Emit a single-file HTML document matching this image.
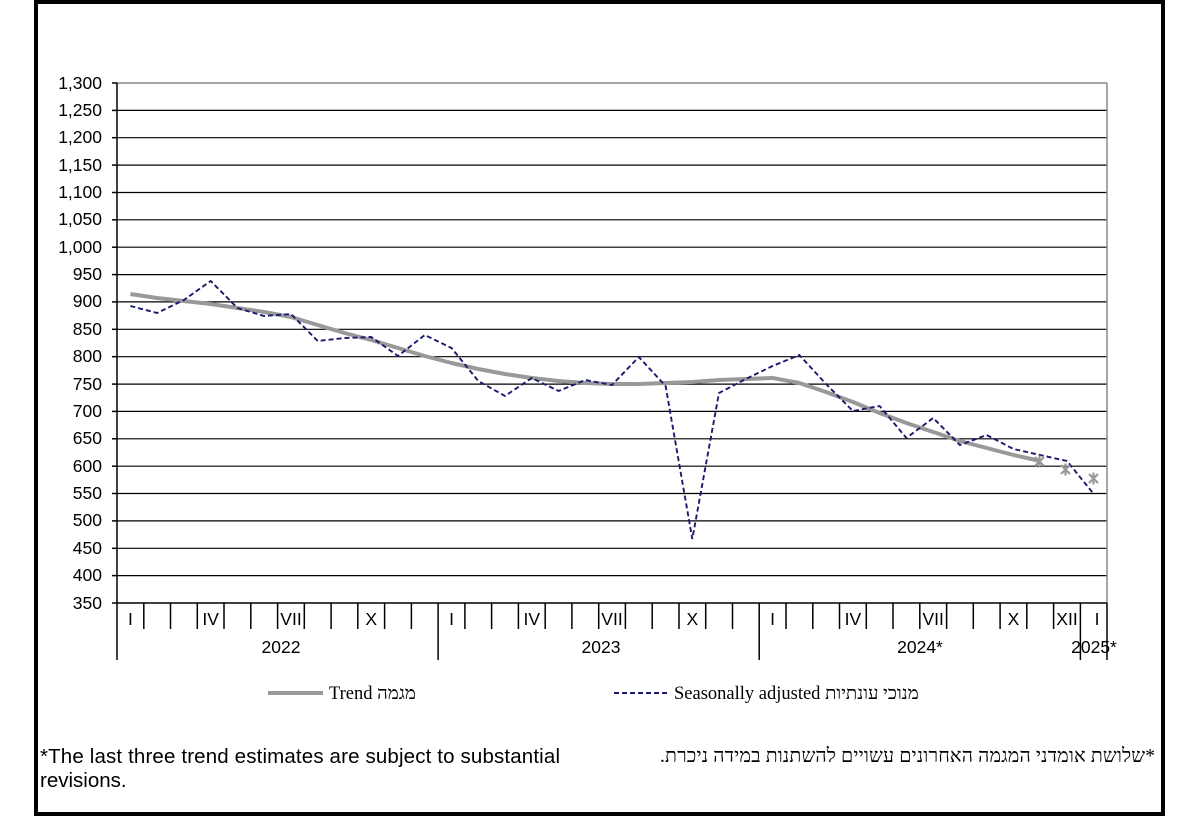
<!DOCTYPE html>
<html><head><meta charset="utf-8"><style>
html,body{margin:0;padding:0;background:#fff;}
svg{display:block;}
.a{font-family:"Liberation Sans",Arial,sans-serif;font-size:17.5px;fill:#000;}
.t{font-family:"Liberation Serif","Noto Serif CJK SC",serif;font-size:18.5px;fill:#000;}
</style></head><body>
<svg width="1200" height="817" viewBox="0 0 1200 817" xmlns="http://www.w3.org/2000/svg">
<rect x="36" y="2" width="1127" height="812" fill="#fff" stroke="#000" stroke-width="4"/>
<g stroke="#000" stroke-width="1.2">
<line x1="117" y1="110.4" x2="1107" y2="110.4"/><line x1="117" y1="137.7" x2="1107" y2="137.7"/><line x1="117" y1="165.1" x2="1107" y2="165.1"/><line x1="117" y1="192.5" x2="1107" y2="192.5"/><line x1="117" y1="219.8" x2="1107" y2="219.8"/><line x1="117" y1="247.2" x2="1107" y2="247.2"/><line x1="117" y1="274.6" x2="1107" y2="274.6"/><line x1="117" y1="301.9" x2="1107" y2="301.9"/><line x1="117" y1="329.3" x2="1107" y2="329.3"/><line x1="117" y1="356.7" x2="1107" y2="356.7"/><line x1="117" y1="384.1" x2="1107" y2="384.1"/><line x1="117" y1="411.4" x2="1107" y2="411.4"/><line x1="117" y1="438.8" x2="1107" y2="438.8"/><line x1="117" y1="466.2" x2="1107" y2="466.2"/><line x1="117" y1="493.5" x2="1107" y2="493.5"/><line x1="117" y1="520.9" x2="1107" y2="520.9"/><line x1="117" y1="548.3" x2="1107" y2="548.3"/><line x1="117" y1="575.6" x2="1107" y2="575.6"/>
</g>
<line x1="117" y1="83" x2="1107" y2="83" stroke="#888" stroke-width="1.5"/>
<line x1="1107" y1="83" x2="1107" y2="603" stroke="#888" stroke-width="1.5"/>
<g stroke="#000" stroke-width="1.5">
<line x1="117" y1="83" x2="117" y2="660"/>
<line x1="112" y1="603" x2="1107" y2="603"/>
<line x1="112" y1="83" x2="117" y2="83"/><line x1="112" y1="110.4" x2="117" y2="110.4"/><line x1="112" y1="137.7" x2="117" y2="137.7"/><line x1="112" y1="165.1" x2="117" y2="165.1"/><line x1="112" y1="192.5" x2="117" y2="192.5"/><line x1="112" y1="219.8" x2="117" y2="219.8"/><line x1="112" y1="247.2" x2="117" y2="247.2"/><line x1="112" y1="274.6" x2="117" y2="274.6"/><line x1="112" y1="301.9" x2="117" y2="301.9"/><line x1="112" y1="329.3" x2="117" y2="329.3"/><line x1="112" y1="356.7" x2="117" y2="356.7"/><line x1="112" y1="384.1" x2="117" y2="384.1"/><line x1="112" y1="411.4" x2="117" y2="411.4"/><line x1="112" y1="438.8" x2="117" y2="438.8"/><line x1="112" y1="466.2" x2="117" y2="466.2"/><line x1="112" y1="493.5" x2="117" y2="493.5"/><line x1="112" y1="520.9" x2="117" y2="520.9"/><line x1="112" y1="548.3" x2="117" y2="548.3"/><line x1="112" y1="575.6" x2="117" y2="575.6"/>
<line x1="143.8" y1="603" x2="143.8" y2="629"/><line x1="170.5" y1="603" x2="170.5" y2="629"/><line x1="197.3" y1="603" x2="197.3" y2="629"/><line x1="224" y1="603" x2="224" y2="629"/><line x1="250.8" y1="603" x2="250.8" y2="629"/><line x1="277.6" y1="603" x2="277.6" y2="629"/><line x1="304.3" y1="603" x2="304.3" y2="629"/><line x1="331.1" y1="603" x2="331.1" y2="629"/><line x1="357.8" y1="603" x2="357.8" y2="629"/><line x1="384.6" y1="603" x2="384.6" y2="629"/><line x1="411.4" y1="603" x2="411.4" y2="629"/>
<line x1="438.1" y1="603" x2="438.1" y2="660"/>
<line x1="464.9" y1="603" x2="464.9" y2="629"/><line x1="491.6" y1="603" x2="491.6" y2="629"/><line x1="518.4" y1="603" x2="518.4" y2="629"/><line x1="545.2" y1="603" x2="545.2" y2="629"/><line x1="571.9" y1="603" x2="571.9" y2="629"/><line x1="598.7" y1="603" x2="598.7" y2="629"/><line x1="625.4" y1="603" x2="625.4" y2="629"/><line x1="652.2" y1="603" x2="652.2" y2="629"/><line x1="679" y1="603" x2="679" y2="629"/><line x1="705.7" y1="603" x2="705.7" y2="629"/><line x1="732.5" y1="603" x2="732.5" y2="629"/>
<line x1="759.2" y1="603" x2="759.2" y2="660"/>
<line x1="786" y1="603" x2="786" y2="629"/><line x1="812.8" y1="603" x2="812.8" y2="629"/><line x1="839.5" y1="603" x2="839.5" y2="629"/><line x1="866.3" y1="603" x2="866.3" y2="629"/><line x1="893" y1="603" x2="893" y2="629"/><line x1="919.8" y1="603" x2="919.8" y2="629"/><line x1="946.6" y1="603" x2="946.6" y2="629"/><line x1="973.3" y1="603" x2="973.3" y2="629"/><line x1="1000.1" y1="603" x2="1000.1" y2="629"/><line x1="1026.8" y1="603" x2="1026.8" y2="629"/><line x1="1053.6" y1="603" x2="1053.6" y2="629"/>
<line x1="1080.4" y1="603" x2="1080.4" y2="660"/>
<line x1="1107" y1="603" x2="1107" y2="660"/>
</g>
<g class="a" text-anchor="end">
<text x="102" y="89">1,300</text><text x="102" y="116">1,250</text><text x="102" y="143">1,200</text><text x="102" y="171">1,150</text><text x="102" y="198">1,100</text><text x="102" y="225">1,050</text><text x="102" y="253">1,000</text><text x="102" y="280">950</text><text x="102" y="307">900</text><text x="102" y="335">850</text><text x="102" y="362">800</text><text x="102" y="390">750</text><text x="102" y="417">700</text><text x="102" y="444">650</text><text x="102" y="472">600</text><text x="102" y="499">550</text><text x="102" y="526">500</text><text x="102" y="554">450</text><text x="102" y="581">400</text><text x="102" y="609">350</text>
</g>
<g class="a" text-anchor="middle">
<text x="130.4" y="625">I</text><text x="210.7" y="625">IV</text><text x="291" y="625">VII</text><text x="371.2" y="625">X</text>
<text x="451.5" y="625">I</text><text x="531.8" y="625">IV</text><text x="612" y="625">VII</text><text x="692.3" y="625">X</text>
<text x="772.6" y="625">I</text><text x="852.9" y="625">IV</text><text x="933.2" y="625">VII</text><text x="1013.5" y="625">X</text><text x="1067" y="625">XII</text><text x="1097" y="625">I</text>
<text x="281" y="653">2022</text><text x="601" y="653">2023</text><text x="920" y="653">2024*</text><text x="1094" y="653">2025*</text>
</g>
<polyline fill="none" stroke="#999" stroke-width="4" stroke-linejoin="round" points="130.4,294 157.1,298 183.9,301 210.7,304 237.4,308 264.2,312 291,317 317.7,325 344.5,333 371.2,340 398,348 424.8,356 451.5,363 478.3,369 505,374 531.8,378 558.6,381 585.3,383 612,384 638.8,384 665.6,383 692.3,382 719,380 745.8,379 772.6,378 799.3,383 826,392 852.9,402 879.6,413 906.4,423 933.2,432 959.9,441 986.7,448 1013.5,455 1040.2,461"/>
<polyline fill="none" stroke="#1a1a6e" stroke-width="1.9" stroke-dasharray="5,3" points="130.4,306 157.1,313 183.9,300 210.7,281 237.4,308 264.2,316 291,314 317.7,341 344.5,338 371.2,337 398,356 424.8,335 451.5,348 478.3,381 505,396 531.8,378 558.6,391 585.3,380 612,385 638.8,357 665.6,386 692.3,539 719,393 745.8,379 772.6,366 799.3,355 826,384 852.9,411 879.6,406 906.4,438 933.2,418 959.9,445 986.7,435 1013.5,449 1040.2,455 1067,461 1093.7,494"/>
<g stroke="#999" stroke-width="2.2">
<path d="M1035,457 L1044,466 M1044,457 L1035,466 M1039.5,455.5 V467.5"/>
<path d="M1061,465 L1070,474 M1070,465 L1061,474 M1065.5,463.5 V475.5"/>
<path d="M1089,474 L1098,483 M1098,474 L1089,483 M1093.5,472.5 V484.5"/>
</g>
<line x1="268" y1="693" x2="323" y2="693" stroke="#999" stroke-width="4"/>
<text class="t" x="329" y="699">Trend מגמה</text>
<line x1="614" y1="693" x2="668" y2="693" stroke="#1a1a6e" stroke-width="1.9" stroke-dasharray="5,3"/>
<text class="t" x="674" y="699">Seasonally adjusted מנוכי עונתיות</text>
<text class="a" x="40" y="763" style="font-size:20.5px" textLength="520" lengthAdjust="spacing">*The last three trend estimates are subject to substantial</text>
<text class="a" x="40" y="787" style="font-size:20.5px">revisions.</text>
<text class="t" x="1155" y="762" text-anchor="start" direction="rtl" style="font-size:19.5px" textLength="495" lengthAdjust="spacing">*שלושת אומדני המגמה האחרונים עשויים להשתנות במידה ניכרת.</text>
</svg>
</body></html>
